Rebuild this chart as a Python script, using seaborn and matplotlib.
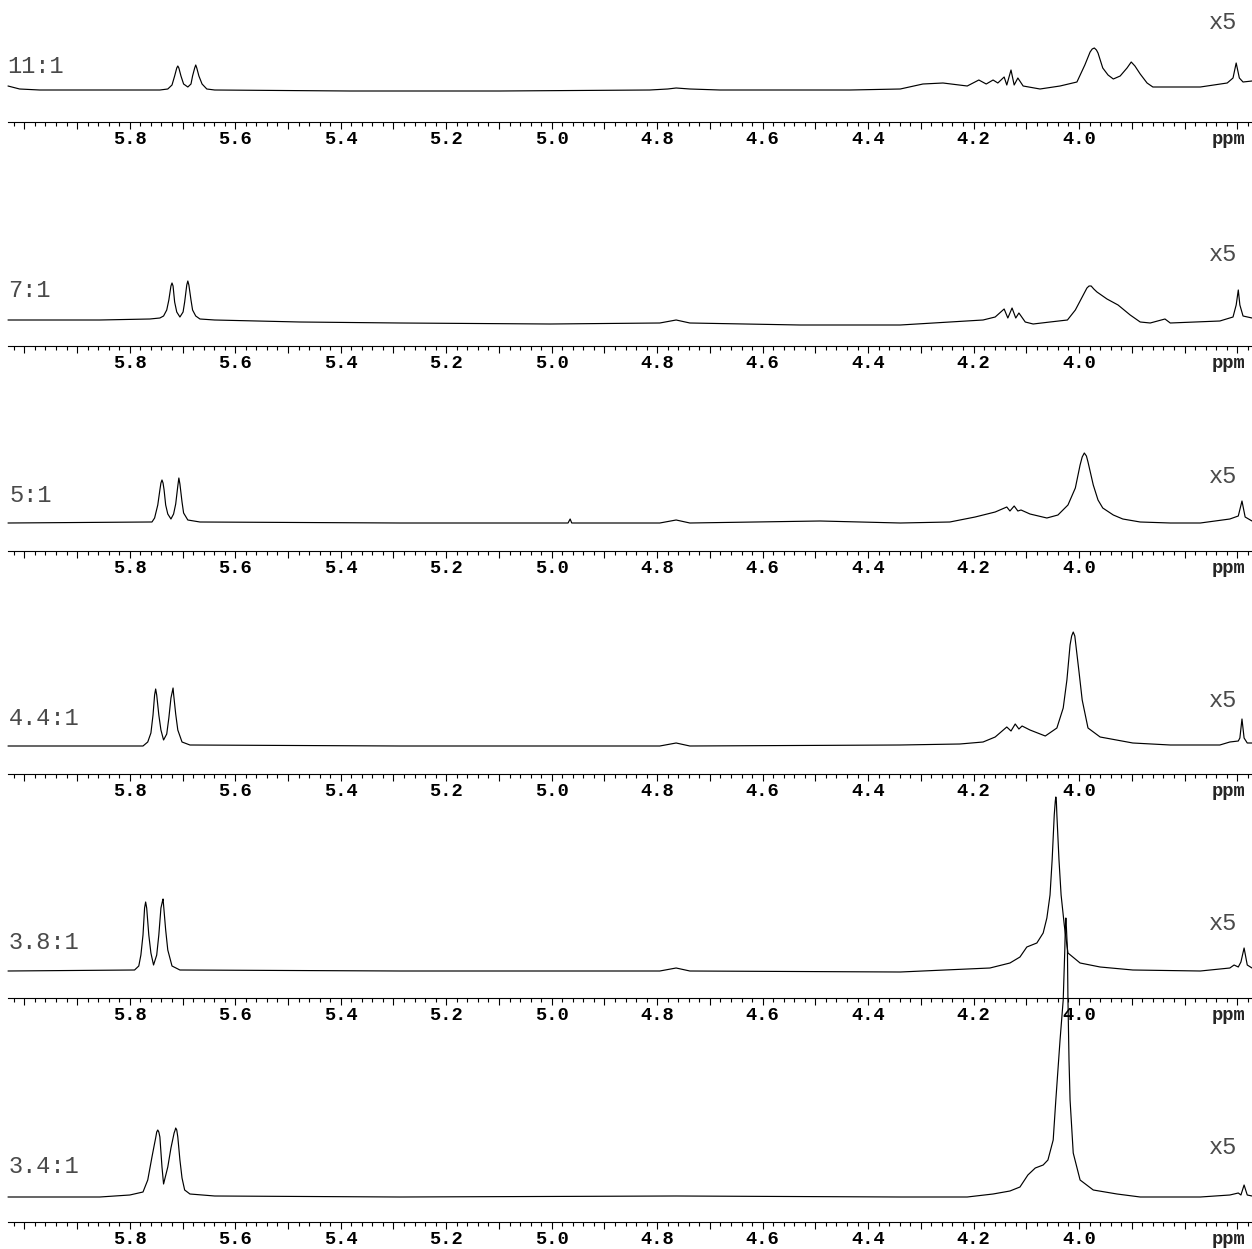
import numpy as np
import pandas as pd
import matplotlib
matplotlib.use("Agg")
import matplotlib.pyplot as plt
import seaborn as sns

# ---------------- data ----------------
ratio_labels = ["11:1", "7:1", "5:1", "4.4:1", "3.8:1", "3.4:1"]
scale_label = "x5"
tick_values = [5.8, 5.6, 5.4, 5.2, 5.0, 4.8, 4.6, 4.4, 4.2, 4.0]
tick_labels = ["5.8", "5.6", "5.4", "5.2", "5.0", "4.8", "4.6", "4.4", "4.2", "4.0"]
unit_label = "ppm"
unit_pos = 3.716

ppm_11 = [6.031, 6.009, 5.971, 5.857, 5.743, 5.728, 5.720, 5.715, 5.711, 5.709, 5.707, 5.703, 5.698, 5.690,
          5.684, 5.681, 5.677, 5.675, 5.673, 5.669, 5.663, 5.654, 5.639, 5.383, 5.098, 4.814, 4.780, 4.764,
          4.738, 4.681, 4.434, 4.339, 4.296, 4.258, 4.212, 4.190, 4.176, 4.163, 4.154, 4.142, 4.137, 4.129,
          4.123, 4.116, 4.106, 4.074, 4.036, 4.004, 3.989, 3.979, 3.975, 3.971, 3.967, 3.964, 3.955, 3.945,
          3.935, 3.922, 3.909, 3.901, 3.894, 3.884, 3.871, 3.860, 3.770, 3.719, 3.708, 3.702, 3.696, 3.689,
          3.672]
int_11 = [4, 1, 0, 0, 0, 1, 5, 14, 22, 24, 22, 14, 6, 3, 6, 14, 22, 25, 22, 14, 6, 1, 0, -1, -1, 0, 1, 2,
          1, 0, 0, 1, 6, 7, 4, 10, 6, 10, 7, 13, 5, 20, 5, 12, 4, 1, 4, 8, 25, 38, 41, 42, 40, 37, 22, 15,
          11, 14, 22, 28, 24, 16, 7, 3, 3, 7, 12, 27, 12, 8, 9]

ppm_7 = [6.031, 5.857, 5.762, 5.743, 5.736, 5.730, 5.726, 5.722, 5.720, 5.718, 5.715, 5.711, 5.705, 5.699,
         5.696, 5.692, 5.690, 5.688, 5.684, 5.681, 5.675, 5.667, 5.639, 5.478, 5.288, 5.003, 4.795, 4.764,
         4.738, 4.529, 4.339, 4.182, 4.159, 4.142, 4.135, 4.127, 4.120, 4.114, 4.102, 4.087, 4.055, 4.022,
         4.007, 3.994, 3.985, 3.981, 3.977, 3.972, 3.966, 3.947, 3.926, 3.903, 3.884, 3.865, 3.837, 3.827,
         3.733, 3.708, 3.702, 3.698, 3.695, 3.689, 3.672]
int_7 = [2, 2, 3, 4, 6, 12, 22, 36, 39, 36, 20, 10, 5, 10, 20, 37, 41, 37, 22, 12, 6, 3, 2, 0, -1, -2, -1,
         2, -1, -3, -3, 2, 5, 13, 4, 14, 4, 9, 0, -2, 0, 2, 12, 25, 34, 36, 36, 33, 30, 23, 17, 7, 0, -1, 3,
         -1, 1, 5, 17, 32, 17, 6, 4]

ppm_5 = [6.031, 5.762, 5.758, 5.753, 5.747, 5.743, 5.741, 5.739, 5.737, 5.735, 5.732, 5.728, 5.722, 5.717,
         5.713, 5.709, 5.707, 5.705, 5.701, 5.698, 5.690, 5.667, 5.288, 4.969, 4.965, 4.962, 4.795, 4.764,
         4.738, 4.491, 4.339, 4.245, 4.197, 4.159, 4.137, 4.131, 4.123, 4.116, 4.110, 4.093, 4.061, 4.040,
         4.021, 4.007, 3.998, 3.994, 3.990, 3.986, 3.983, 3.973, 3.964, 3.955, 3.935, 3.917, 3.884, 3.827,
         3.770, 3.714, 3.698, 3.691, 3.685, 3.672]
int_5 = [0, 1, 1, 5, 18, 33, 40, 43, 40, 33, 18, 9, 4, 9, 19, 37, 45, 39, 21, 10, 3, 1, 0, 0, 4, 0, 0, 3,
         0, 2, 0, 1, 6, 11, 16, 12, 17, 12, 13, 9, 5, 8, 18, 35, 58, 66, 70, 67, 61, 38, 23, 15, 8, 4, 1, 0,
         0, 4, 7, 22, 6, 2]

ppm_44 = [6.031, 5.775, 5.766, 5.760, 5.756, 5.753, 5.751, 5.749, 5.745, 5.741, 5.736, 5.730, 5.726, 5.722,
          5.718, 5.717, 5.713, 5.709, 5.701, 5.686, 5.288, 4.795, 4.764, 4.738, 4.339, 4.226, 4.182, 4.159,
          4.137, 4.129, 4.121, 4.114, 4.108, 4.093, 4.064, 4.042, 4.030, 4.023, 4.017, 4.014, 4.011, 4.008,
          4.006, 4.000, 3.994, 3.983, 3.960, 3.898, 3.827, 3.733, 3.714, 3.698, 3.695, 3.691, 3.687, 3.681,
          3.672]
int_44 = [0, 0, 4, 13, 31, 51, 57, 51, 31, 16, 6, 12, 28, 48, 58, 52, 32, 16, 4, 1, 0, 0, 3, 0, 1, 2, 4, 9,
          19, 15, 22, 17, 20, 16, 10, 18, 38, 66, 101, 110, 114, 110, 101, 74, 46, 18, 9, 3, 1, 1, 4, 5, 8,
          27, 8, 3, 3]

ppm_38 = [6.031, 5.791, 5.783, 5.779, 5.775, 5.772, 5.770, 5.768, 5.764, 5.760, 5.755, 5.749, 5.745, 5.741,
          5.738, 5.737, 5.736, 5.732, 5.728, 5.720, 5.705, 5.288, 4.795, 4.764, 4.738, 4.339, 4.169, 4.131,
          4.112, 4.099, 4.080, 4.068, 4.061, 4.055, 4.051, 4.047, 4.045, 4.044, 4.043, 4.042, 4.038, 4.034,
          4.028, 4.021, 3.998, 3.960, 3.898, 3.770, 3.714, 3.706, 3.698, 3.693, 3.687, 3.681, 3.672]
int_38 = [0, 1, 5, 16, 36, 63, 69, 63, 36, 18, 6, 16, 36, 63, 70, 72, 66, 41, 21, 5, 1, 0, 0, 3, 0, -1, 3,
          8, 14, 24, 28, 38, 53, 76, 111, 156, 170, 174, 170, 156, 111, 76, 46, 18, 8, 4, 1, 0, 3, 6, 4, 9,
          23, 6, 3]

ppm_34 = [6.031, 5.857, 5.800, 5.775, 5.766, 5.758, 5.754, 5.751, 5.749, 5.747, 5.745, 5.743, 5.739, 5.736,
          5.728, 5.722, 5.716, 5.714, 5.713, 5.711, 5.709, 5.705, 5.701, 5.696, 5.686, 5.639, 5.288, 4.764,
          4.339, 4.212, 4.163, 4.131, 4.112, 4.097, 4.083, 4.068, 4.059, 4.049, 4.044, 4.036, 4.030, 4.027,
          4.026, 4.025, 4.024, 4.022, 4.021, 4.019, 4.017, 4.011, 3.998, 3.973, 3.928, 3.884, 3.770, 3.714,
          3.698, 3.693, 3.687, 3.681, 3.672]
int_34 = [0, 0, 2, 5, 17, 40, 51, 59, 65, 67, 65, 60, 30, 13, 30, 49, 64, 67, 69, 67, 60, 37, 19, 7, 3, 1,
          0, 1, 0, 0, 3, 6, 10, 22, 29, 32, 37, 57, 97, 157, 197, 247, 270, 279, 270, 247, 197, 137, 97, 44,
          17, 7, 3, 0, 0, 2, 4, 2, 12, 2, 1]

spectra = [(ppm_11, int_11), (ppm_7, int_7), (ppm_5, int_5),
           (ppm_44, int_44), (ppm_38, int_38), (ppm_34, int_34)]

# ---------------- layout / style ----------------
W, H = 1252, 1249
axis_y = [122, 346, 551, 774, 998, 1222]      # px from top: axis line of each panel
base_off = [32, 24, 28, 28, 27, 25]            # baseline height above axis (px)
label_base = 49                                # ratio label baseline above axis (px)
label_x = [7, 8, 9, 9, 9, 9]
x5_base = [93, 85, 68, 67, 68, 68]             # "x5" baseline above axis (px)
AX_H = 200
X_LEFT, X_RIGHT = 8, 1252
XLIM = (6.031, 3.672)
TICK_LEN = 5.0
TICK_PAD = 1.3
TICK_FS = 13.5
LABEL_FS = 17
GRAY = "#4a4a4a"

sns.set_theme(style="white")
plt.rcParams['font.family'] = ['Liberation Mono', 'DejaVu Sans Mono']

fig = plt.figure(figsize=(W / 100, H / 100), dpi=100)

major_pos = np.round(np.arange(3.7, 6.0001, 0.1), 2)
minor_pos = np.round(np.arange(3.68, 6.0301, 0.02), 2)
major_lab = []
for v in major_pos:
    lab = ""
    for tv, tl in zip(tick_values, tick_labels):
        if abs(v - tv) < 1e-6:
            lab = tl
    major_lab.append(lab)

for i, (ppm, inten) in enumerate(spectra):
    ax = fig.add_axes([X_LEFT / W, 1 - axis_y[i] / H, (X_RIGHT - X_LEFT) / W, AX_H / H])
    ax.patch.set_visible(False)
    df = pd.DataFrame({"ppm": ppm, "intensity": inten})
    sns.lineplot(data=df, x="ppm", y="intensity", ax=ax, color="black", linewidth=0.85,
                 sort=False, estimator=None, clip_on=False)
    ax.set_xlim(*XLIM)
    ax.set_ylim(-base_off[i], -base_off[i] + AX_H)
    ax.set_xlabel("")
    ax.set_ylabel("")
    ax.set_yticks([])
    for s in ["top", "left", "right"]:
        ax.spines[s].set_visible(False)
    ax.spines["bottom"].set_color("black")
    ax.spines["bottom"].set_linewidth(0.8)
    ax.set_xticks(major_pos)
    ax.set_xticks(minor_pos, minor=True)
    ax.set_xticklabels(major_lab, fontweight="bold", fontsize=TICK_FS, color="black")
    ax.tick_params(axis="x", which="major", bottom=True, length=TICK_LEN, width=0.8,
                   color="black", direction="out", pad=TICK_PAD)
    ax.tick_params(axis="x", which="minor", bottom=True, length=2.9, width=0.8,
                   color="black", direction="out")
    ax.grid(False)
    ax.annotate(unit_label, xy=(unit_pos, 0), xycoords=("data", "axes fraction"),
                xytext=(0, -(TICK_LEN + TICK_PAD)), textcoords="offset points",
                ha="center", va="top", fontsize=TICK_FS, fontweight="bold",
                annotation_clip=False)
    fig.text(label_x[i] / W, 1 - (axis_y[i] - label_base) / H, ratio_labels[i], ha="left",
             va="baseline", fontsize=LABEL_FS, color=GRAY)
    fig.text(1209 / W, 1 - (axis_y[i] - x5_base[i]) / H, scale_label, ha="left",
             va="baseline", fontsize=LABEL_FS, color=GRAY)

fig.savefig("out.png", dpi=100, facecolor="white")
